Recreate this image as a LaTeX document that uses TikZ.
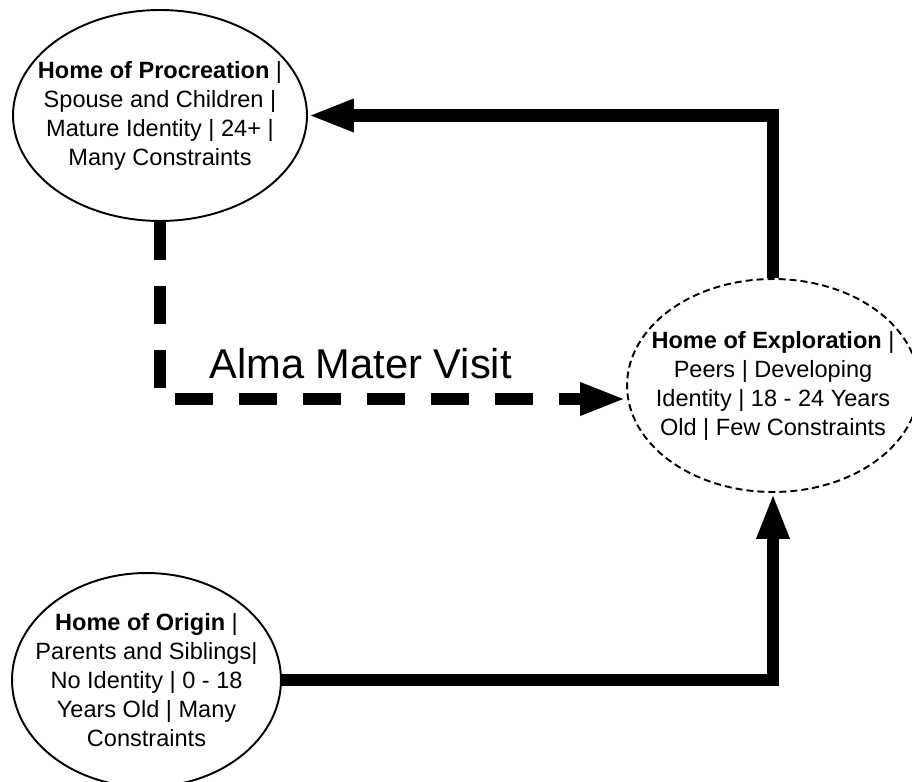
\documentclass[tikz,border=0pt]{standalone}
\usepackage{fontspec}
\setmainfont{Liberation Sans}
\usetikzlibrary{shapes.geometric,arrows.meta}

\begin{document}
\begin{tikzpicture}[x=0.02cm,y=0.02cm,
    home/.style={ellipse, draw, line width=1.1pt, inner sep=-0.7cm, align=center,
        font=\fontsize{13.4}{16.5}\selectfont},
    flow/.style={line width=0.25cm, -{Triangle[length=0.92cm,width=0.6cm]}},
    visitflow/.style={flow, dash pattern=on 0.76cm off 0.52cm}]
\useasboundingbox (0,0) rectangle (912,781);

\node[home, minimum width=5.88cm, minimum height=4.22cm] (proc) at (160,665.5)
    {\textbf{Home of Procreation} |\\ Spouse and Children |\\ Mature Identity | 24+ |\\ Many Constraints};
\node[home, dash pattern=on 0.14cm off 0.08cm, minimum width=5.84cm, minimum height=4.26cm] (expl) at (773,395.5)
    {\textbf{Home of Exploration} |\\ Peers | Developing\\ Identity | 18 - 24 Years\\ Old | Few Constraints};
\node[home, minimum width=5.38cm, minimum height=4.28cm] (orig) at (146.5,101)
    {\textbf{Home of Origin} |\\ Parents and Siblings|\\ No Identity | 0 - 18\\ Years Old | Many\\ Constraints};

\coordinate (visitturn) at (160,382);
\node[anchor=base west, inner sep=0pt, font=\fontsize{23.7}{28}\selectfont] (almalabel) at (209,402) {Alma Mater Visit};

\draw[flow] (orig.east) -| (expl.south);
\draw[flow] (expl.north) |- (proc.east);
\draw[visitflow] (proc.south) -- (visitturn) -- (expl.west |- visitturn);
\end{tikzpicture}
\end{document}
